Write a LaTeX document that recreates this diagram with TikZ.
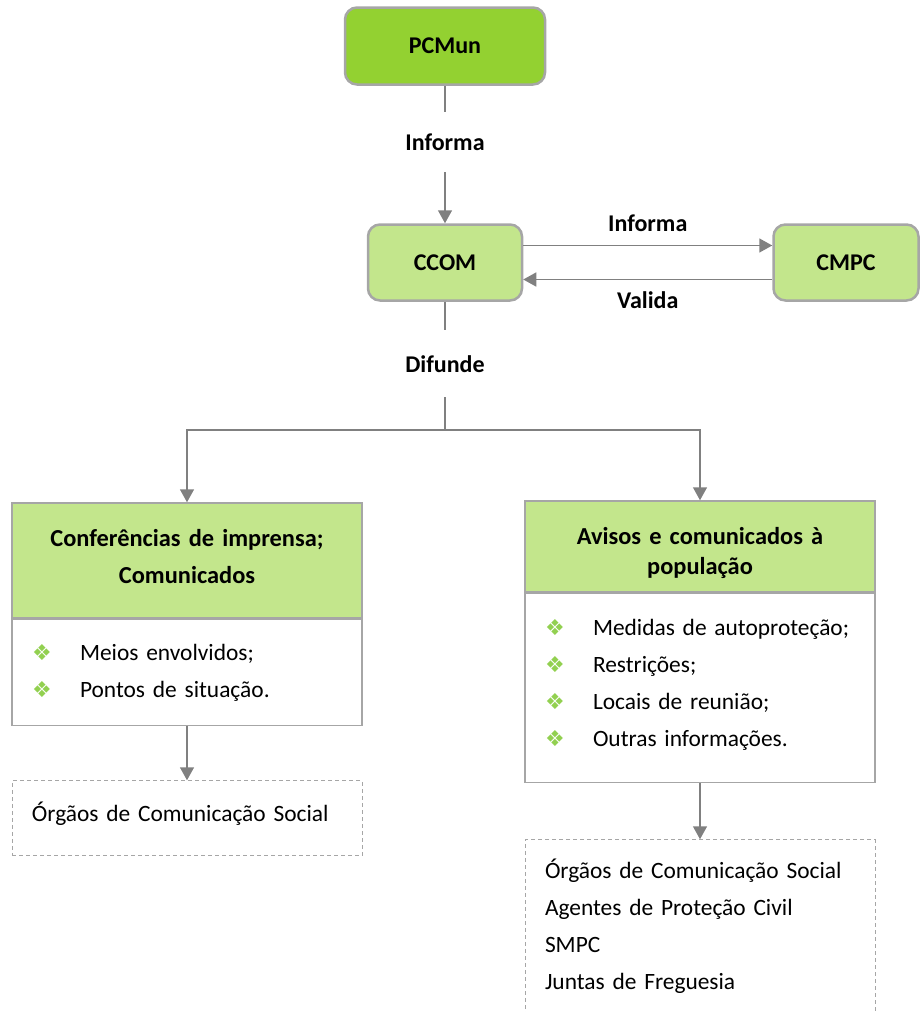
\documentclass[tikz,border=0pt]{standalone}
\usepackage{fontspec}
\setmainfont{Carlito}
\newfontfamily\symfont{DejaVu Sans}
\usetikzlibrary{arrows.meta,positioning}
\definecolor{PCGreen}{HTML}{93D131}
\definecolor{PCLight}{HTML}{C3E68C}
\definecolor{PCBorder}{HTML}{A6A6A6}
\definecolor{PCArrow}{HTML}{808080}
\definecolor{PCBullet}{HTML}{92D050}
\newcommand{\bul}{\makebox[23pt][l]{\hspace{-1pt}\textcolor{PCBullet}{\symfont\fontsize{11pt}{14pt}\selectfont ❖}}}
\tikzset{
    % Rounded command boxes
    command/.style={
        rectangle,
        rounded corners=6pt,
        draw=PCBorder,
        line width=1.25pt,
        fill=PCLight,
        text=black,
        minimum width=77pt,
        minimum height=38pt,
        align=center,
        font=\fontsize{12pt}{14pt}\selectfont\bfseries
    },
    command top/.style={
        command,
        fill=PCGreen,
        minimum width=100pt,
        minimum height=38.5pt
    },
    % Sharp information blocks
    block head/.style={
        rectangle,
        draw=PCBorder,
        line width=0.75pt,
        fill=PCLight,
        minimum width=175pt,
        text width=165pt,
        align=center,
        font=\fontsize{12.2pt}{18.5pt}\selectfont\bfseries
    },
    block body/.style={
        rectangle,
        draw=PCBorder,
        line width=0.75pt,
        fill=white,
        text width=153pt,
        inner xsep=11pt,
        align=left,
        font=\fontsize{11.7pt}{18.5pt}\selectfont
    },
    target/.style={
        rectangle,
        draw=PCBorder,
        line width=0.5pt,
        dash pattern=on 2pt off 1.5pt,
        text width=155pt,
        inner xsep=10pt,
        align=left,
        font=\fontsize{11.7pt}{18.6pt}\selectfont
    },
    link/.style={
        line width=0.75pt,
        draw=PCArrow
    },
    arrow/.style={
        link,
        -{Triangle[width=7pt,length=6.5pt]}
    },
    flow label/.style={
        fill=white,
        inner xsep=2pt,
        font=\fontsize{12pt}{14pt}\selectfont\bfseries
    }
}
\begin{document}
\begin{tikzpicture}[x=0.5pt, y=-0.5pt]
    \path[use as bounding box, clip] (0,0) rectangle (920,1012);

    % Command chain
    \node[command top] (pcmun) at (445,46) {PCMun};
    \node[command] (ccom) at (445,262.5) {CCOM};
    \node[command, minimum width=72.5pt] (cmpc) at (846,262.5) {CMPC};

    % Left branch
    \node[block head, minimum height=57.5pt] (presshead) at (187,560.5)
          {Conferências de imprensa;\\Comunicados\rule[-4pt]{0pt}{4pt}};
    \node[block body, minimum height=53pt, below=0pt of presshead] (pressbody)
          {\bul Meios envolvidos;\\\bul Pontos de situação.};
    \node[target, inner ysep=10.5pt, below=27pt of pressbody] (pressout)
          {\parbox[c][16.5pt][t]{155pt}{Órgãos de Comunicação Social}};

    % Right branch
    \node[block head, minimum height=45.5pt,
          font=\fontsize{12.2pt}{15pt}\selectfont\bfseries] (warnhead) at (700,546.5)
          {\rule{0pt}{15pt}Avisos e comunicados à\\população};
    \node[block body, minimum height=94.5pt, below=0pt of warnhead] (warnbody)
          {\bul Medidas de autoproteção;\\\bul Restrições;\\\bul Locais de reunião;\\\bul Outras informações.\\[-13.5pt]\mbox{}};
    \node[target, inner ysep=9.5pt, below=28pt of warnbody] (warnout)
          {\parbox[c][84pt][t]{155pt}{Órgãos de Comunicação Social\\Agentes de Proteção Civil\\SMPC\\Juntas de Freguesia}};

    % Connectors
    \coordinate (split) at (445,430);
    \draw[arrow] (pcmun) -- node[flow label, pos=0.41, minimum height=30pt] {Informa} (ccom);
    \draw[arrow] ([yshift=8.5pt]ccom.east) -- node[above=3pt, font=\fontsize{12pt}{14pt}\selectfont\bfseries] {Informa} ([yshift=8.5pt]cmpc.west);
    \draw[arrow] ([yshift=-8.5pt]cmpc.west) -- node[below=2.5pt, font=\fontsize{12pt}{14pt}\selectfont\bfseries] {Valida} ([yshift=-8.5pt]ccom.east);
    \draw[link] (ccom) -- node[flow label, pos=0.485, minimum height=33.5pt] {Difunde} (split);
    \draw[arrow] (split) -| (presshead);
    \draw[arrow] (split) -| (warnhead);
    \draw[arrow] (pressbody) -- (pressout);
    \draw[arrow] (warnbody) -- (warnout);
\end{tikzpicture}
\end{document}
